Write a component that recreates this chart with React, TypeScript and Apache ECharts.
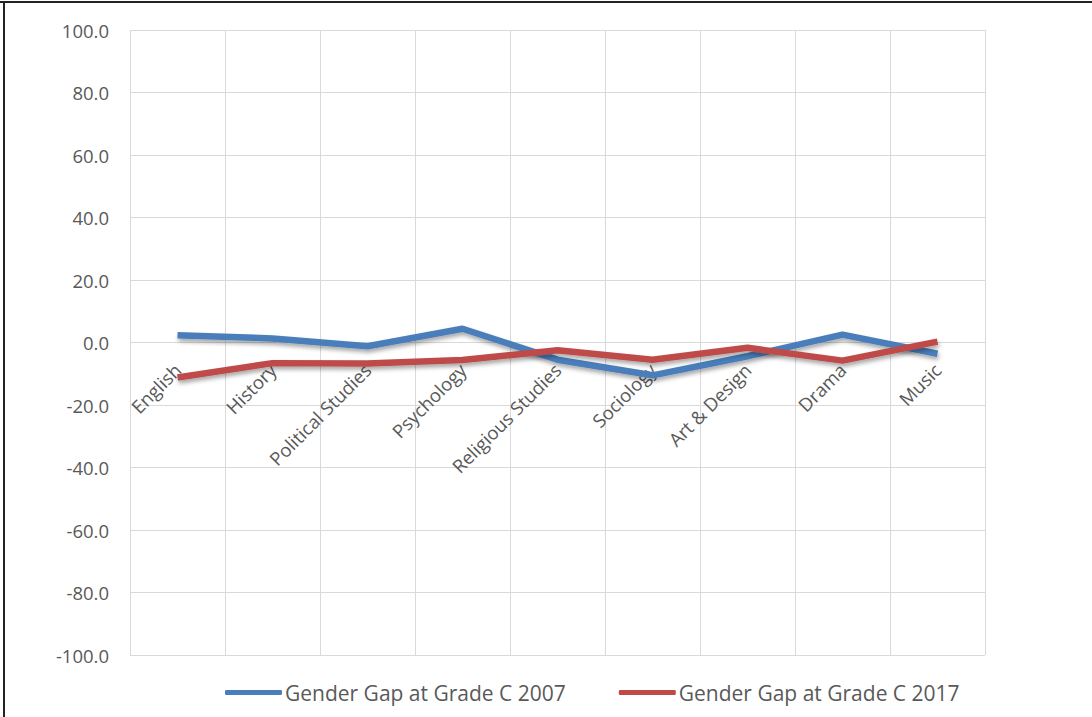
import React, { useEffect, useRef } from "react";
import * as echarts from "echarts";

const categories = ["English", "History", "Political Studies", "Psychology", "Religious Studies", "Sociology", "Art & Design", "Drama", "Music"];
const gap2007 = [2.3, 1.3, -1.2, 4.4, -5.5, -10.5, -4.4, 2.5, -3.6];
const gap2017 = [-11.2, -6.6, -6.7, -5.6, -2.5, -5.5, -1.7, -5.8, 0.3];
const seriesNames = ["Gender Gap at Grade C 2007", "Gender Gap at Grade C 2017"];
const colors = ["#4A7EBB", "#BE4B48"];

export default function App() {
  const ref = useRef<HTMLDivElement>(null);
  useEffect(() => {
    if (!ref.current) return;
    const chart = echarts.init(ref.current, null, { renderer: "svg" });
    const font = "'Open Sans', 'Liberation Sans', sans-serif";
    const mk = (name: string, data: number[], color: string) => ({
      name,
      type: "line",
      data,
      symbol: "none",
      lineStyle: {
        width: 6.5,
        color,
        shadowColor: "rgba(0,0,0,0.35)",
        shadowBlur: 4,
        shadowOffsetY: 3,
        shadowOffsetX: 1,
      },
      itemStyle: { color },
    });
    chart.setOption({
      animation: false,
      backgroundColor: "#ffffff",
      textStyle: { fontFamily: font },
      grid: { left: 130, right: 107, top: 30, bottom: 62, containLabel: false, outerBoundsMode: "none" },
      legend: {
        top: 677,
        left: 220,
        itemWidth: 57,
        itemHeight: 5,
        itemGap: 53,
        icon: "roundRect",
        textStyle: { fontFamily: font, fontSize: 21, color: "#595959", padding: [0, 0, 0, -2] },
        data: seriesNames,
      },
      xAxis: {
        type: "category",
        data: categories,
        boundaryGap: true,
        offset: -312.5,
        axisLine: { show: false, onZero: false },
        axisTick: { show: false },
        axisLabel: {
          rotate: 45,
          interval: 0,
          fontSize: 18.5,
          color: "#595959",
          fontFamily: font,
          margin: 24,
        },
        splitLine: { show: true, interval: 0, lineStyle: { color: "#d9d9d9", width: 1 } },
      },
      yAxis: {
        type: "value",
        min: -100,
        max: 100,
        interval: 20,
        axisLine: { show: false },
        axisTick: { show: false },
        axisLabel: {
          fontSize: 18.5,
          color: "#595959",
          fontFamily: font,
          margin: 21,
          formatter: (v: number) => v.toFixed(1),
        },
        splitLine: { lineStyle: { color: "#d9d9d9", width: 1 } },
      },
      series: [mk(seriesNames[0], gap2007, colors[0]), mk(seriesNames[1], gap2017, colors[1])],
      graphic: [
        { type: "line", shape: { x1: 0, y1: 2, x2: 1092, y2: 2 }, style: { stroke: "#222", lineWidth: 2 } },
        { type: "line", shape: { x1: 4, y1: 2, x2: 4, y2: 717 }, style: { stroke: "#222", lineWidth: 2 } },
      ],
    });
    return () => chart.dispose();
  }, []);
  return (
    <div
      ref={ref}
      style={{ position: "absolute", left: 0, top: 0, width: 1092, height: 717 }}
    />
  );
}
